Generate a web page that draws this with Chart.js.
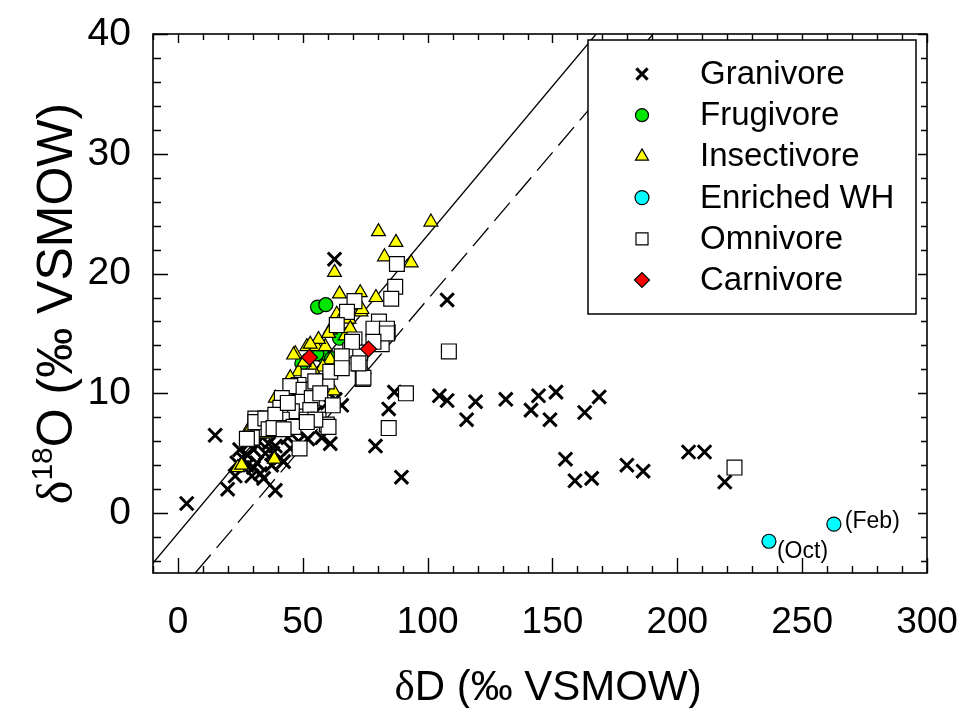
<!DOCTYPE html>
<html>
<head>
<meta charset="utf-8">
<script src="https://cdn.jsdelivr.net/npm/chart.js@4.4.1/dist/chart.umd.min.js"></script>
<style>
  html, body { margin: 0; padding: 0; background: #fff; }
</style>
</head>
<body>
<canvas id="chart" width="962" height="708"></canvas>
<script>
// axis ranges and tick labels
const xRange = [-10, 300];
const yRange = [-5, 40];
const xTicks = [0, 50, 100, 150, 200, 250, 300];
const yTicks = [0, 10, 20, 30, 40];

// series values: [dD, d18O]
const granivore = [
  [3.5, 0.8], [14.9, 6.5], [19.9, 2.0], [39, 1.9], [62.7, 21.2], [107.8, 17.8],
  [86.7, 10.1], [84.4, 8.7], [79.1, 5.6], [89.5, 3.0], [104.7, 9.8], [107.8, 9.4],
  [115.6, 7.8], [119.2, 9.3], [131.3, 9.5], [141.4, 8.6], [144.4, 9.8], [151.4, 10.1],
  [149, 7.8], [155.2, 4.5], [162.9, 8.4], [168.7, 9.7], [159, 2.7], [165.7, 2.9],
  [179.8, 4.0], [186.3, 3.5], [204.5, 5.1], [210.9, 5.1], [219, 2.6],
  [24.7, 5.3], [27.6, 4.9], [30.3, 5.3], [23.6, 4.2], [27.6, 4.0], [31.6, 4.2],
  [35, 5.0], [36.3, 5.8], [39, 5.6], [33, 3.3], [29.6, 3.1], [34.3, 2.9], [22.9, 3.1],
  [30.3, 3.8], [26.3, 4.5], [47.6, 7.0], [57.6, 6.3], [61, 5.8], [59.8, 9.2], [65.6, 9.0],
  [42.3, 4.3], [45, 5.4], [48.3, 6.0], [41, 4.6], [37.5, 4.0], [32.5, 6.0], [28.5, 5.8],
  [44, 6.3], [52, 6.2], [55, 8.4], [63, 9.5], [38, 5.0]
];
const frugivore = [
  [55.9, 17.2], [59.2, 17.4], [64.7, 14.6], [49.6, 12.5], [58.3, 13.1], [55.6, 13.3], [61.5, 12.9]
];
const insectivore = [
  [80.3, 23.5], [87.3, 22.6], [101.3, 24.3], [82.7, 21.4], [93.4, 20.9], [62.7, 20.1],
  [64.7, 18.3], [73, 18.4], [79.3, 18.0], [71.4, 17.3], [73.3, 16.8], [63.6, 16.6],
  [66.3, 16.6], [61, 15.3], [47, 13.3], [51.6, 13.9], [55.4, 13.9], [59, 13.9],
  [56.3, 14.5], [46.3, 13.2], [53, 14.1], [60.3, 15.0], [61, 12.8], [48.3, 11.8],
  [45, 11.3], [62.3, 10.2], [39, 9.6], [28.3, 7.0], [31.6, 7.0], [28.3, 6.8], [31.3, 6.8],
  [23.9, 3.8], [38.6, 4.5], [58, 12.2], [67, 14.8], [70, 13.5], [54, 12.0], [50.5, 12.6],
  [72.2, 12.8], [25.5, 4.0], [35, 6.6], [43, 9.8], [52, 10.7], [68.5, 16.2], [74.5, 12.0],
  [69, 15.4], [73.7, 17.0]
];
const enrichedWH = [[236.7, -2.35], [262.7, -0.92]];
const enrichedLabels = ['(Oct)', '(Feb)'];
const omnivore = [
  [91.3, 10.0], [84.4, 7.1], [108.5, 13.5], [222.9, 3.8], [87, 18.9], [85.4, 17.9],
  [80.5, 16.0], [84, 15.1], [81.6, 14.1], [72.8, 12.5], [74, 11.2], [87.7, 20.8],
  [70.7, 17.7], [67.7, 16.8], [63.6, 15.7], [78.3, 15.4], [83.7, 15.4], [70.7, 14.5],
  [83.7, 15.0], [78.3, 14.3], [69, 13.6], [73, 13.4],
  [52.3, 11.4], [48.3, 10.7], [45, 10.6], [50.3, 10.3], [54.3, 10.3], [59.6, 11.0],
  [61, 11.8], [55, 11.0], [41.6, 9.6], [48.3, 9.3], [53.6, 9.6], [45.6, 8.5], [41, 8.8],
  [53, 8.6], [35.6, 7.9], [31, 7.9], [41.6, 7.8], [51.6, 7.8], [56.3, 7.8], [39.6, 7.1],
  [34.3, 7.0], [46.3, 7.2], [59.6, 7.4], [29.6, 6.3], [27.6, 6.2], [31, 7.6], [35, 7.9],
  [39, 8.2], [36.3, 7.0], [40.3, 7.1], [48.7, 5.4], [60.3, 7.2], [55, 7.8], [51.6, 7.6],
  [74.3, 11.3], [72.3, 12.5], [69.7, 14.3], [65.6, 13.1], [65.6, 12.1], [38.3, 7.1],
  [42.3, 7.0], [57, 10.0], [62, 9.0], [44, 9.2]
];
const carnivore = [[52.7, 13.0], [76.3, 13.7]];

// reference lines (end points)
const solidLine = [[-10, -4.17], [167.5, 40]];
const dashedLine = [[6.9, -5], [190.3, 40]];

const FONT = '"Liberation Sans", Arial, Helvetica, sans-serif';
const SERIF = '"Liberation Serif", "DejaVu Serif", serif';

const toXY = (arr) => arr.map(([x, y]) => ({ x: x, y: y }));

// style per series (legend order)
const seriesStyles = [
  { label: 'Granivore', data: granivore, pointStyle: 'crossRot', radius: 9.5, bg: '#000', border: '#000', bw: 3, legendRadius: 8, order: 6 },
  { label: 'Frugivore', data: frugivore, pointStyle: 'circle', radius: 7, bg: '#00e600', border: '#000', bw: 1.2, legendRadius: 6.5, order: 5 },
  { label: 'Insectivore', data: insectivore, pointStyle: 'triangle', radius: 8, bg: '#ffff00', border: '#000', bw: 1.2, legendRadius: 7.5, order: 4 },
  { label: 'Enriched WH', data: enrichedWH, pointStyle: 'circle', radius: 7, bg: '#00ffff', border: '#000', bw: 1.2, legendRadius: 7, order: 3 },
  { label: 'Omnivore', data: omnivore, pointStyle: 'rect', radius: 10.5, bg: '#ffffff', border: '#000', bw: 1.2, legendRadius: 8.5, order: 2 },
  { label: 'Carnivore', data: carnivore, pointStyle: 'rectRot', radius: 8, bg: '#ff0000', border: '#000', bw: 1.2, legendRadius: 7.5, order: 1 }
];

const datasets = seriesStyles.map((s) => ({
  label: s.label,
  data: toXY(s.data),
  pointStyle: s.pointStyle,
  pointRadius: s.radius,
  pointBackgroundColor: s.bg,
  pointBorderColor: s.border,
  pointBorderWidth: s.bw,
  order: s.order
}));

datasets.push({
  label: 'solid',
  data: toXY(solidLine),
  showLine: true,
  pointRadius: 0,
  borderColor: '#000',
  borderWidth: 1.3,
  fill: false,
  order: 10
});
datasets.push({
  label: 'dashed',
  data: toXY(dashedLine),
  showLine: true,
  pointRadius: 0,
  borderColor: '#000',
  borderWidth: 1.3,
  borderDash: [24, 9],
  fill: false,
  order: 11
});

// frame with inward ticks on all four sides
const framePlugin = {
  id: 'frame',
  afterDatasetsDraw(chart) {
    const { ctx, chartArea: a, scales } = chart;
    const x = scales.x, y = scales.y;
    ctx.save();
    ctx.strokeStyle = '#000';
    ctx.lineWidth = 1.6;
    ctx.strokeRect(a.left, a.top, a.right - a.left, a.bottom - a.top);
    ctx.lineWidth = 1.4;
    ctx.beginPath();
    for (let v = xRange[0]; v <= xRange[1]; v += 10) {
      const px = Math.round(x.getPixelForValue(v)) + 0.5;
      const major = v % 50 === 0;
      ctx.moveTo(px, a.bottom); ctx.lineTo(px, a.bottom - (major ? 15 : 7));
      ctx.moveTo(px, a.top); ctx.lineTo(px, a.top + (major ? 9 : 6));
    }
    for (let v = -4; v <= yRange[1]; v += 2) {
      const py = Math.round(y.getPixelForValue(v)) + 0.5;
      const major = v % 10 === 0;
      ctx.moveTo(a.left, py); ctx.lineTo(a.left + (major ? 15 : 8), py);
      ctx.moveTo(a.right, py); ctx.lineTo(a.right - (major ? 9 : 6), py);
    }
    ctx.stroke();
    ctx.restore();
  }
};

// month labels next to the enriched water points
const labelOffsets = [[8, 10], [11, -2]];
const labelPlugin = {
  id: 'pointLabels',
  afterDatasetsDraw(chart) {
    const { ctx, scales } = chart;
    ctx.save();
    ctx.fillStyle = '#000';
    ctx.font = '23px ' + FONT;
    ctx.textAlign = 'left';
    ctx.textBaseline = 'middle';
    enrichedWH.forEach((p, i) => {
      const px = scales.x.getPixelForValue(p[0]);
      const py = scales.y.getPixelForValue(p[1]);
      ctx.fillText(enrichedLabels[i], px + labelOffsets[i][0], py + labelOffsets[i][1]);
    });
    ctx.restore();
  }
};

function drawMarker(ctx, s, cx, cy, r) {
  ctx.fillStyle = s.bg;
  ctx.strokeStyle = s.border;
  ctx.lineWidth = s.bw;
  Chart.helpers.drawPoint(ctx, { pointStyle: s.pointStyle, radius: r, rotation: 0, borderWidth: s.bw }, cx, cy);
}

// legend box in the upper right of the plot
const legendPlugin = {
  id: 'boxLegend',
  afterDraw(chart) {
    const ctx = chart.ctx;
    const box = { left: 588, top: 40, right: 916, bottom: 314 };
    ctx.save();
    ctx.fillStyle = '#fff';
    ctx.fillRect(box.left, box.top, box.right - box.left, box.bottom - box.top);
    ctx.strokeStyle = '#000';
    ctx.lineWidth = 1.5;
    ctx.strokeRect(box.left, box.top, box.right - box.left, box.bottom - box.top);
    ctx.font = '33px ' + FONT;
    ctx.textBaseline = 'middle';
    ctx.textAlign = 'left';
    seriesStyles.forEach((s, i) => {
      const cy = 74 + i * 41.2;
      drawMarker(ctx, s, 642, cy, s.legendRadius);
      ctx.fillStyle = '#000';
      ctx.fillText(s.label, 700, cy + 1);
    });
    ctx.restore();
  }
};

// axis titles with a serif delta and a superscript 18
const titlePlugin = {
  id: 'axisTitles',
  afterDraw(chart) {
    const { ctx, chartArea: a } = chart;
    ctx.save();
    ctx.fillStyle = '#000';
    ctx.textBaseline = 'alphabetic';
    ctx.textAlign = 'left';

    // x title
    const xParts = [
      { t: '\u03b4', f: '43px ' + SERIF, dy: 0 },
      { t: 'D (\u2030 VSMOW)', f: '42px ' + FONT, dy: 0 }
    ];
    let w = 0;
    xParts.forEach((p) => { ctx.font = p.f; p.w = ctx.measureText(p.t).width; w += p.w; });
    let cx = (a.left + a.right) / 2 + 8 - w / 2;
    xParts.forEach((p) => { ctx.font = p.f; ctx.fillText(p.t, cx, 700 + p.dy); cx += p.w; });

    // y title, rotated
    ctx.translate(72, (a.top + a.bottom) / 2);
    ctx.rotate(-Math.PI / 2);
    const yParts = [
      { t: '\u03b4', f: '50px ' + SERIF, dy: 0 },
      { t: '18', f: '30px ' + FONT, dy: -20 },
      { t: 'O (\u2030 VSMOW)', f: '50px ' + FONT, dy: 0 }
    ];
    w = 0;
    yParts.forEach((p) => { ctx.font = p.f; p.w = ctx.measureText(p.t).width; w += p.w; });
    cx = -w / 2;
    yParts.forEach((p) => { ctx.font = p.f; ctx.fillText(p.t, cx, p.dy); cx += p.w; });
    ctx.restore();
  }
};

const ctx = document.getElementById('chart').getContext('2d');
new Chart(ctx, {
  type: 'scatter',
  data: { datasets: datasets },
  options: {
    responsive: false,
    animation: false,
    layout: { padding: { top: 34, right: 35, left: 0, bottom: 0 } },
    plugins: { legend: { display: false }, tooltip: { enabled: false } },
    scales: {
      x: {
        type: 'linear',
        min: xRange[0],
        max: xRange[1],
        afterBuildTicks: (scale) => { scale.ticks = xTicks.map((v) => ({ value: v })); },
        afterFit: (scale) => { scale.height = 135; scale.paddingLeft = 0; scale.paddingRight = 0; },
        grid: { display: false, drawTicks: false },
        border: { display: false },
        ticks: { color: '#000', padding: 28, maxRotation: 0, autoSkip: false, font: { family: FONT, size: 37 } }
      },
      y: {
        type: 'linear',
        min: yRange[0],
        max: yRange[1],
        afterBuildTicks: (scale) => { scale.ticks = yTicks.map((v) => ({ value: v })); },
        afterFit: (scale) => { scale.width = 153; scale.paddingTop = 0; scale.paddingBottom = 0; },
        grid: { display: false, drawTicks: false },
        border: { display: false },
        ticks: { color: '#000', padding: 22, autoSkip: false, font: { family: FONT, size: 39 } }
      }
    }
  },
  plugins: [framePlugin, labelPlugin, legendPlugin, titlePlugin]
});
</script>
</body>
</html>
